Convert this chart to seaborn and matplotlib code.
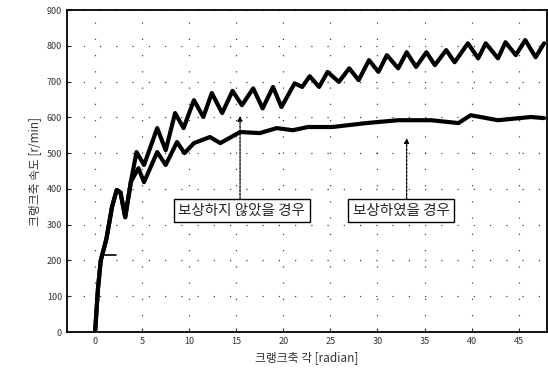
import matplotlib
matplotlib.use("Agg")
import matplotlib.pyplot as plt
import seaborn as sns
import pandas as pd

# ---- data ----
upper_x = [0, 0.3, 0.6, 1.2, 1.8, 2.3, 2.7, 3.2, 3.8, 4.4, 5.2, 6.6, 7.5, 8.5, 9.4, 10.5,
           11.5, 12.4, 13.5, 14.6, 15.6, 16.8, 17.8, 18.9, 19.8, 21.2, 22.0, 22.8, 23.8,
           24.7, 25.9, 27.0, 28.0, 29.1, 30.1, 31.0, 32.2, 33.1, 34.1, 35.2, 36.1, 37.3,
           38.2, 39.6, 40.7, 41.5, 42.8, 43.6, 44.7, 45.7, 46.8, 47.7]
upper_y = [0, 120, 200, 260, 350, 397, 390, 321, 420, 503, 467, 570, 508, 612, 570, 648,
           601, 668, 612, 674, 634, 681, 625, 685, 629, 695, 685, 715, 685,
           727, 699, 737, 704, 760, 727, 774, 737, 782, 741, 782, 746, 788,
           754, 807, 765, 807, 765, 810, 774, 816, 768, 807]

lower_x = [0, 0.3, 0.6, 1.2, 1.8, 2.3, 2.7, 3.2, 3.8, 4.6, 5.2, 6.6, 7.5, 8.7, 9.5, 10.5,
           12.2, 13.3, 15.4, 17.5, 19.3, 21.0, 22.6, 25.2, 28.8, 32.2, 35.7, 38.6, 39.9,
           42.8, 46.3, 47.7]
lower_y = [0, 120, 200, 260, 350, 397, 390, 321, 420, 458, 419, 503, 467, 531, 500, 528,
           545, 528, 559, 556, 570, 564, 573, 573, 584, 592, 592, 584, 606,
           592, 601, 598]

series_names = ["보상하지 않았을 경우", "보상하였을 경우"]
arrow_x = [15.4, 33.1]
arrow_tip_y = [612, 550]
label_x = [15.6, 32.5]
label_y = [339, 339]

seg_x = [0.95, 2.2]
seg_y = 215

x_ticks = [0, 5, 10, 15, 20, 25, 30, 35, 40, 45]
y_ticks = [0, 100, 200, 300, 400, 500, 600, 700, 800, 900]
x_label = "크랭크축 각 [radian]"
y_label = "크랭크축 속도 [r/min]"

df = pd.concat([
    pd.DataFrame({"x": upper_x, "y": upper_y, "s": series_names[0]}),
    pd.DataFrame({"x": lower_x, "y": lower_y, "s": series_names[1]}),
])

sns.set_style("ticks")
plt.rcParams["font.family"] = ["Noto Sans CJK KR", "DejaVu Sans"]

fig = plt.figure(figsize=(5.48, 3.71), dpi=100)
ax = fig.add_axes([0.122, 0.105, 0.876, 0.868])

sns.lineplot(data=df, x="x", y="y", hue="s", palette=["black", "black"],
             linewidth=3.0, legend=False, sort=False, estimator=None, ax=ax)
ax.plot(seg_x, [seg_y, seg_y], color="black", lw=1.2)

ax.set_xlim(-3, 48)
ax.set_ylim(0, 900)
ax.set_xticks(x_ticks)
ax.set_yticks(y_ticks)
ax.tick_params(direction="in", length=3, labelsize=6.5, width=0.8, labelcolor="#333333")
ax.grid(True, color="#444444", linestyle=(0, (1, 12)), linewidth=0.9)
for sp in ax.spines.values():
    sp.set_linewidth(1.3)
    sp.set_color("black")

ax.set_xlabel(x_label, fontsize=8.5, color="#333333")
ax.set_ylabel(y_label, fontsize=8.5, color="#333333")

for lx, ly, ax_x, tip, name in zip(label_x, label_y, arrow_x, arrow_tip_y, series_names):
    ax.annotate("", xy=(ax_x, tip), xytext=(ax_x, ly + 24),
                arrowprops=dict(arrowstyle="-|>", color="black", lw=0.9,
                                linestyle=(0, (2, 1)), mutation_scale=7))
    ax.text(lx, ly, name, ha="center", va="center", fontsize=10.5,
            bbox=dict(boxstyle="square,pad=0.3", fc="white", ec="black", lw=1.0))

fig.savefig("out.png", dpi=100)
